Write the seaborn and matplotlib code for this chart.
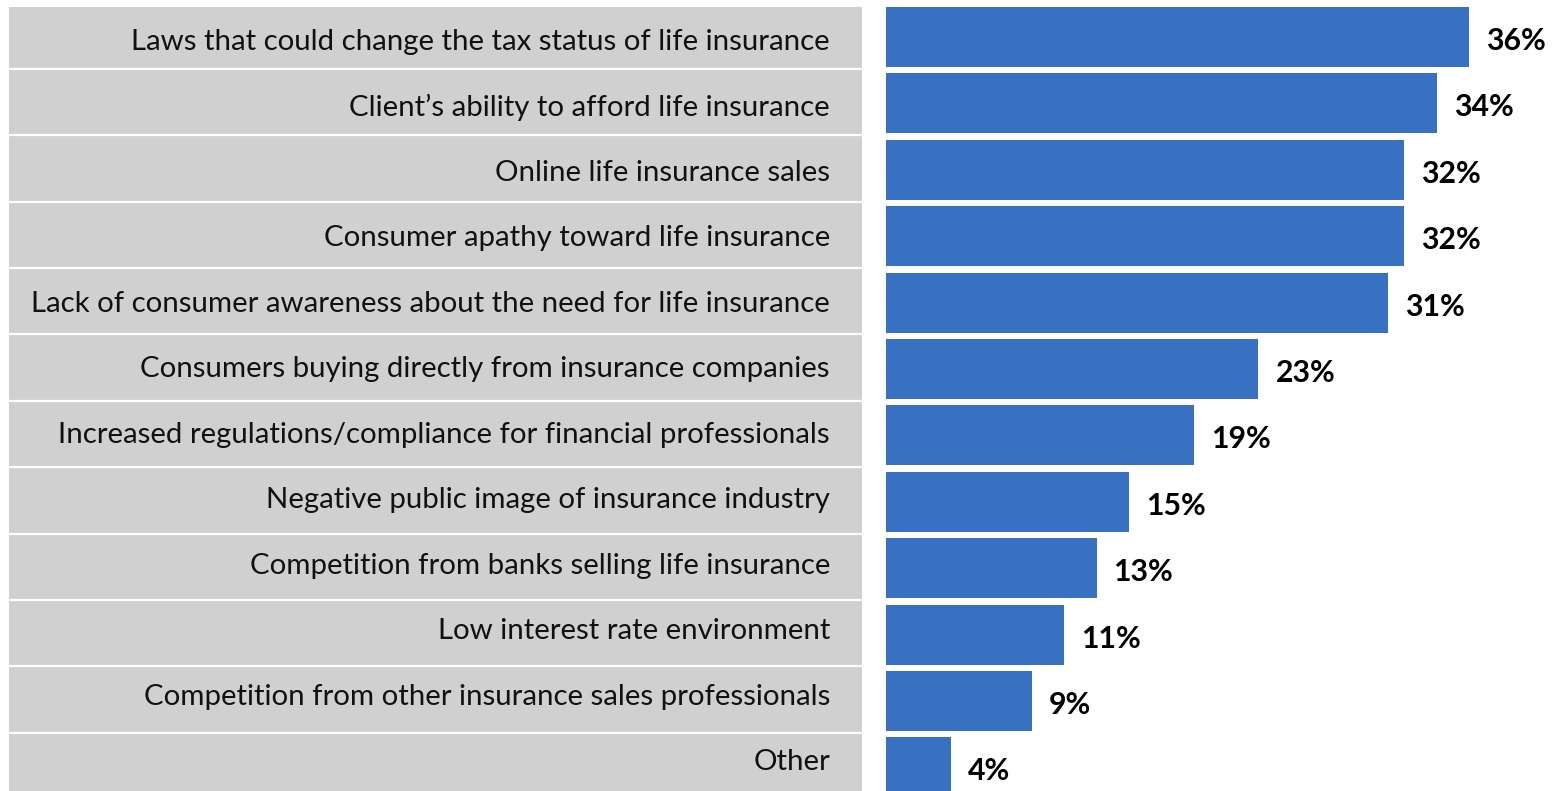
import matplotlib
matplotlib.use("Agg")
import matplotlib.pyplot as plt
import seaborn as sns
import pandas as pd

categories = [
    "Laws that could change the tax status of life insurance",
    "Client\u2019s ability to afford life insurance",
    "Online life insurance sales",
    "Consumer apathy toward life insurance",
    "Lack of consumer awareness about the need for life insurance",
    "Consumers buying directly from insurance companies",
    "Increased regulations/compliance for financial professionals",
    "Negative public image of insurance industry",
    "Competition from banks selling life insurance",
    "Low interest rate environment",
    "Competition from other insurance sales professionals",
    "Other",
]
values = [36, 34, 32, 32, 31, 23, 19, 15, 13, 11, 9, 4]
value_labels = [f"{v}%" for v in values]

sns.set_theme(style="white")
plt.rcParams["font.family"] = ["Lato", "DejaVu Sans"]

W, H = 1561, 791
fig = plt.figure(figsize=(W / 100, H / 100), dpi=100)

pitch = 66.4            # row height in pixels
first_center = 37       # first row centre, pixels from top
y_top = -first_center / pitch
y_bot = y_top + H / pitch

# Grey label panel on the left
panel_left, panel_right, panel_top = 9, 862, 7
axL = fig.add_axes([panel_left / W, 0, (panel_right - panel_left) / W, (H - panel_top) / H])
axL.set_facecolor("#D0D0D0")
axL.set_xlim(0, 1)
axL.set_ylim(y_bot, y_top + panel_top / pitch)
for i in range(len(categories) - 1):
    axL.axhline(i + 0.48, color="white", lw=1.6)
text_x = (830 - panel_left) / (panel_right - panel_left)
label_pitch = 65.45     # category text rows are spaced a little tighter than the bars
for i, c in enumerate(categories):
    y = (5 + label_pitch * i) / pitch
    axL.text(text_x, y, c, ha="right", va="center", fontsize=21.15, color="#111111")
axL.set_xticks([])
axL.set_yticks([])
for s in axL.spines.values():
    s.set_visible(False)

# Bars on the right
bar_left = 886
px_per_pct = 583 / 36
axR = fig.add_axes([bar_left / W, 0, (W - bar_left) / W, 1])
df = pd.DataFrame({"category": categories, "value": values})
sns.barplot(data=df, x="value", y="category", color="#3871C1", saturation=1,
            width=60 / pitch, ax=axR, linewidth=0)
axR.set_xlim(0, (W - bar_left) / px_per_pct)
axR.set_ylim(y_bot, y_top)
for i, (v, lab) in enumerate(zip(values, value_labels)):
    axR.text(v + 17 / px_per_pct, i + 0.06, lab, ha="left", va="center",
             fontsize=21.8, fontweight="bold", color="black")
axR.set_xticks([])
axR.set_yticks([])
axR.set_xlabel("")
axR.set_ylabel("")
axR.set_facecolor("white")
for s in axR.spines.values():
    s.set_visible(False)

fig.savefig("out.png", dpi=100, facecolor="white")
